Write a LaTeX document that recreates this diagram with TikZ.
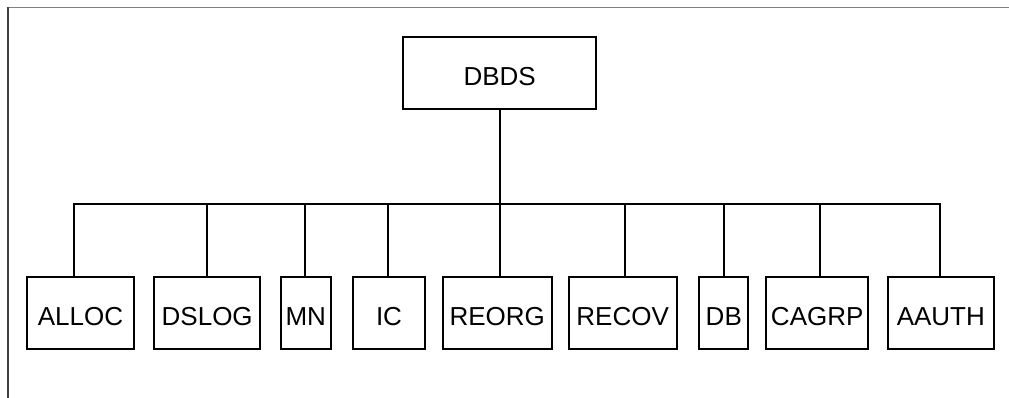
\documentclass[tikz,border=0pt]{standalone}
\usepackage{fontspec}
\setmainfont{Liberation Sans}
\begin{document}
\begin{tikzpicture}[x=1pt,y=-1pt,
  box/.style={draw,line width=1.8pt,rectangle,inner sep=0pt,
    minimum height=72pt,text height=25pt,text depth=0pt,
    font=\fontsize{26}{30}\selectfont},
  wire/.style={line width=1.8pt},
  frameline/.style={line width=1.4pt}]
\useasboundingbox (0,0) rectangle (1009,398);
% open frame: top and left edges only
\draw[frameline,black!50] (8,7.5) -- (1009,7.5);
\draw[frameline,black!75] (8,7.5) -- (8,398);

% root
\node[box,minimum width=192.7pt] (dbds) at (499.7,72.7) {DBDS};

% children
\node[box,minimum width=107.6pt] (alloc) at (80.5,312.8) {ALLOC};
\node[box,minimum width=105.7pt] (dslog) at (207.2,312.8) {DSLOG};
\node[box,minimum width=50.3pt]  (mn)    at (305.8,312.8) {MN};
\node[box,minimum width=72.6pt]  (ic)    at (389,312.8) {IC};
\node[box,minimum width=109pt]   (reorg) at (497.2,312.8) {REORG};
\node[box,minimum width=108pt]   (recov) at (622.7,312.8) {RECOV};
\node[box,minimum width=49pt]    (db)    at (723.8,312.8) {DB};
\node[box,minimum width=102.3pt] (cagrp) at (817.2,312.8) {CAGRP};
\node[box,minimum width=106.3pt] (aauth) at (940.8,312.8) {AAUTH};

% bus
\coordinate (hub) at (500,204.3);
\coordinate (busL) at (74,204.3);
\coordinate (busR) at (940,204.3);
\draw[wire] (dbds.south -| hub) -- (hub);
\draw[wire,line cap=rect] (busL) -- (busR);

% stubs from bus down to each child
\foreach \n/\sx in {alloc/74,dslog/207.3,mn/305,ic/388.3,reorg/500,recov/625,db/724,cagrp/820,aauth/940}{
  \draw[wire] (\sx,204.3) -- (\n.north -| {(\sx,0)});
}
\end{tikzpicture}
\end{document}
